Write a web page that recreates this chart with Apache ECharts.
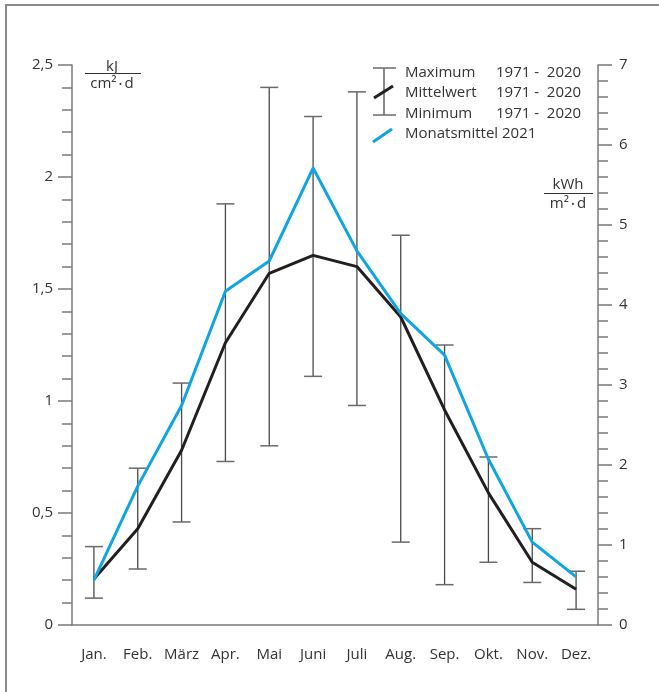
<!DOCTYPE html>
<html>
<head>
<meta charset="utf-8">
<script src="https://cdn.jsdelivr.net/npm/echarts@6/dist/echarts.min.js"></script>
<style>html,body{margin:0;padding:0;background:#fff}#c{width:659px;height:692px}</style>
</head>
<body>
<div id="c"></div>
<script>
const months = ['Jan.','Feb.','März','Apr.','Mai','Juni','Juli','Aug.','Sep.','Okt.','Nov.','Dez.'];
const maxVals = [0.35,0.70,1.08,1.88,2.40,2.27,2.38,1.74,1.25,0.75,0.43,0.24];
const meanVals = [0.205,0.43,0.78,1.26,1.57,1.65,1.60,1.375,0.96,0.59,0.28,0.16];
const minVals = [0.12,0.25,0.46,0.73,0.80,1.11,0.98,0.37,0.18,0.28,0.19,0.07];
const monat2021 = [0.20,0.62,0.98,1.49,1.625,2.04,1.67,1.39,1.205,0.74,0.37,0.215];
const legendNames = ['Maximum','Mittelwert','Minimum','Monatsmittel 2021'];
const legendYears = ['1971 -  2020','1971 -  2020','1971 -  2020'];

const FONT = '"Open Sans", "Noto Sans", sans-serif';
const FS = 15;
const TXT = '#333';
const AX = '#7a7a7a';
const BLUE = '#0ea5e0';

const chart = echarts.init(document.getElementById('c'));

const errData = months.map((m, i) => [i, maxVals[i], minVals[i]]);

const legendGraphics = [];
const ly = [73, 93, 114, 134];
legendNames.forEach((n, i) => {
  legendGraphics.push({type:'text', x:405, y: ly[i], style:{text:n, font:FS + 'px ' + FONT, fill:TXT, verticalAlign:'middle'}});
});
legendYears.forEach((t, i) => {
  legendGraphics.push({type:'text', x:496, y: ly[i], style:{text:t, font:FS + 'px ' + FONT, fill:TXT, verticalAlign:'middle'}, z:10});
});

const option = {
  animation: false,
  grid: {left:72, right:61, top:65, bottom:67},
  xAxis: {
    type:'category', data: months, boundaryGap:true,
    axisLine:{lineStyle:{color:AX, width:1.5}},
    axisTick:{length:14, interval:0, lineStyle:{color:AX, width:1.5}},
    axisLabel:{color:TXT, fontFamily:FONT, fontSize:FS, margin:22, interval:0, hideOverlap:false}
  },
  yAxis: [
    {
      type:'value', min:0, max:2.5, interval:0.5, position:'left',
      axisLine:{show:true, lineStyle:{color:AX, width:1.5}},
      axisTick:{show:true, length:14, lineStyle:{color:AX, width:1.5}},
      minorTick:{show:true, splitNumber:5, length:10, lineStyle:{color:AX, width:1.5}},
      splitLine:{show:false},
      axisLabel:{color:TXT, fontFamily:FONT, fontSize:FS, margin:19,
        formatter: v => String(v).replace('.', ',')}
    },
    {
      type:'value', min:0, max:7, interval:1, position:'right', alignTicks:false,
      axisLine:{show:true, lineStyle:{color:AX, width:1.5}},
      axisTick:{show:true, length:14, lineStyle:{color:AX, width:1.5}},
      minorTick:{show:true, splitNumber:5, length:10, lineStyle:{color:AX, width:1.5}},
      splitLine:{show:false},
      axisLabel:{color:TXT, fontFamily:FONT, fontSize:FS, margin:21}
    }
  ],
  series: [
    {
      type:'custom', name:'Fehler', data: errData, encode:{x:0, y:[1,2]}, z:2,
      renderItem: function (params, api) {
        const x = api.value(0);
        const hi = api.coord([x, api.value(1)]);
        const lo = api.coord([x, api.value(2)]);
        const h = 9;
        const st = {stroke:'#4a4a4a', lineWidth:1.3};
        const stc = {stroke:'#6a6a6a', lineWidth:1.5};
        return {type:'group', children:[
          {type:'line', shape:{x1:hi[0], y1:hi[1], x2:lo[0], y2:lo[1]}, style:st},
          {type:'line', shape:{x1:hi[0]-h, y1:hi[1], x2:hi[0]+h, y2:hi[1]}, style:stc},
          {type:'line', shape:{x1:lo[0]-h, y1:lo[1], x2:lo[0]+h, y2:lo[1]}, style:stc}
        ]};
      }
    },
    {type:'line', name:'Mittelwert', data: meanVals, showSymbol:false, symbol:'none', z:3,
      lineStyle:{color:'#231f20', width:3}},
    {type:'line', name:'Monatsmittel 2021', data: monat2021, showSymbol:false, symbol:'none', z:4,
      lineStyle:{color:BLUE, width:3}}
  ],
  graphic: [
    {type:'line', shape:{x1:5, y1:5, x2:659, y2:5}, style:{stroke:'#8a8a8a', lineWidth:2}},
    {type:'line', shape:{x1:6, y1:5, x2:6, y2:692}, style:{stroke:'#8a8a8a', lineWidth:2}},
    // left unit
    {type:'text', x:112, y:67, style:{text:'kJ', font:FS + 'px ' + FONT, fill:TXT, align:'center', verticalAlign:'middle'}},
    {type:'line', shape:{x1:85, y1:73.5, x2:141, y2:73.5}, style:{stroke:TXT, lineWidth:1}},
    {type:'text', x:112, y:84, style:{text:'{a|cm²}{b| • }{a|d}', align:'center', verticalAlign:'middle',
      rich:{a:{font:FS + 'px ' + FONT, fill:TXT}, b:{font:'9px ' + FONT, fill:TXT}}}},
    // right unit
    {type:'text', x:568, y:185, style:{text:'kWh', font:FS + 'px ' + FONT, fill:TXT, align:'center', verticalAlign:'middle'}},
    {type:'line', shape:{x1:544, y1:193.5, x2:593, y2:193.5}, style:{stroke:TXT, lineWidth:1}},
    {type:'text', x:568, y:204, style:{text:'{a|m²}{b| • }{a|d}', align:'center', verticalAlign:'middle',
      rich:{a:{font:FS + 'px ' + FONT, fill:TXT}, b:{font:'9px ' + FONT, fill:TXT}}}},
    // legend icons
    {type:'line', shape:{x1:384, y1:68, x2:384, y2:115}, style:{stroke:'#4a4a4a', lineWidth:1.3}},
    {type:'line', shape:{x1:373, y1:68, x2:396, y2:68}, style:{stroke:'#6a6a6a', lineWidth:1.5}},
    {type:'line', shape:{x1:373, y1:115, x2:396, y2:115}, style:{stroke:'#6a6a6a', lineWidth:1.5}},
    {type:'line', shape:{x1:374, y1:98, x2:393, y2:86}, style:{stroke:'#231f20', lineWidth:3}},
    {type:'line', shape:{x1:373, y1:142, x2:392, y2:129}, style:{stroke:BLUE, lineWidth:3}},
    ...legendGraphics
  ]
};
chart.setOption(option);
</script>
</body>
</html>
